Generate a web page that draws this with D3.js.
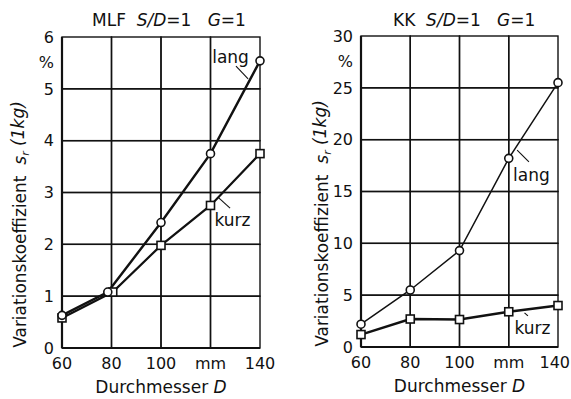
<!DOCTYPE html>
<html>
<head>
<meta charset="utf-8">
<script src="https://cdn.jsdelivr.net/npm/d3@7"></script>
<style>
  body { margin: 0; background: #fff; }
  svg text { font-family: "DejaVu Sans", sans-serif; fill: #111; }
</style>
</head>
<body>
<div id="chart"></div>
<script>
// data
const diameters = [60, 80, 100, 120, 140];
const xTickLabels = ["60", "80", "100", "mm", "140"];

// MLF panel, S/D=1, G=1
const mlfLangD = [60, 78.5, 100, 120, 140];
const mlfLang = [0.63, 1.08, 2.42, 3.75, 5.54];
const mlfKurzD = [60, 80.5, 100, 120, 140];
const mlfKurz = [0.58, 1.08, 1.98, 2.75, 3.75];
const mlfYTicks = [0, 1, 2, 3, 4, 5, 6];

// KK panel, S/D=1, G=1
const kkLang = [2.2, 5.5, 9.3, 18.2, 25.5];
const kkKurz = [1.2, 2.7, 2.65, 3.4, 4.0];
const kkYTicks = [0, 5, 10, 15, 20, 25, 30];

function draw() {

//*************************1. Set up Measurement
  const dimensions = { width: 571, height: 399 }

  const svg = d3.select("#chart")
    .append("svg")
    .attr("width", dimensions.width)
    .attr("height", dimensions.height)

  const panels = [
    {
      name: "MLF", left: 62, right: 260, top: 37, bottom: 348, yMax: 6, yTicks: mlfYTicks,
      labelX: 20, titleX: 92,
      lang: { d: mlfLangD, v: mlfLang, width: 2.4 },
      kurz: { d: mlfKurzD, v: mlfKurz, width: 2.2 },
      langLabel: { d: 128.1, v: 5.61, lead: [[130.3, 5.44], [135.2, 5.19]] },
      kurzLabel: { d: 128.9, v: 2.47, lead: [[123.0, 2.91], [127.9, 2.70]] }
    },
    {
      name: "KK", left: 361, right: 558, top: 36, bottom: 347, yMax: 30, yTicks: kkYTicks,
      labelX: 322, titleX: 393,
      lang: { d: diameters, v: kkLang, width: 1.5 },
      kurz: { d: diameters, v: kkKurz, width: 2.4 },
      langLabel: { d: 129.2, v: 16.6, lead: [[123.4, 19.0], [128.2, 17.85]] },
      kurzLabel: { d: 129.6, v: 1.83, lead: [[126.4, 3.3], [127.8, 3.0]] }
    }
  ]

  panels.forEach(p => drawPanel(svg, p, dimensions))
}

function drawPanel(svg, p, dimensions) {

//*************************2. Scales
  const xScale = d3.scaleLinear()
    .domain([60, 140])
    .range([p.left, p.right])

  const yScale = d3.scaleLinear()
    .domain([0, p.yMax])
    .range([p.bottom, p.top])

  const g = svg.append("g")

//*************************3. Grid cells and frame
  const cells = d3.cross(d3.pairs(diameters), d3.pairs(p.yTicks))
  g.append("g")
    .selectAll("rect")
    .data(cells)
    .join("rect")
      .attr("x", d => xScale(d[0][0]))
      .attr("y", d => yScale(d[1][1]))
      .attr("width", d => xScale(d[0][1]) - xScale(d[0][0]))
      .attr("height", d => yScale(d[1][0]) - yScale(d[1][1]))
      .attr("fill", "none")
      .attr("stroke", "#111")
      .attr("stroke-width", 1.4)

  // axis lines a bit heavier
  g.append("line")
    .attr("x1", xScale(60)).attr("x2", xScale(60))
    .attr("y1", yScale(p.yMax)).attr("y2", yScale(0))
    .attr("stroke", "#111").attr("stroke-width", 2.2)
  g.append("line")
    .attr("x1", xScale(60)).attr("x2", xScale(140))
    .attr("y1", yScale(0)).attr("y2", yScale(0))
    .attr("stroke", "#111").attr("stroke-width", 2.2)

//*************************4. Tick labels and axis titles
  g.append("g")
    .selectAll("text")
    .data(p.yTicks)
    .join("text")
      .attr("x", p.left - 8)
      .attr("y", d => yScale(d))
      .attr("dy", "0.36em")
      .attr("text-anchor", "end")
      .attr("font-size", 16)
      .text(d => d)

  g.append("text")
    .attr("x", p.left - 8)
    .attr("y", p.top + 25)
    .attr("dy", "0.36em")
    .attr("text-anchor", "end")
    .attr("font-size", 16)
    .text("%")

  const xTicks = g.append("g")
    .selectAll("text")
    .data(diameters)
    .join("text")
      .attr("x", d => xScale(d))
      .attr("y", p.bottom + 21)
      .attr("text-anchor", "middle")
      .attr("font-size", 16)
      .text((d, i) => xTickLabels[i])

  // keep the last label inside the page
  xTicks.each(function(d) {
    const half = this.getComputedTextLength() / 2
    if (xScale(d) + half > dimensions.width - 1) {
      d3.select(this).attr("x", dimensions.width - 1 - half)
    }
  })

  const xLabel = g.append("text")
    .attr("x", (p.left + p.right) / 2)
    .attr("y", p.bottom + 45)
    .attr("text-anchor", "middle")
    .attr("font-size", 17)
  xLabel.append("tspan").text("Durchmesser ")
  xLabel.append("tspan").attr("font-style", "italic").text("D")

  const yLabel = g.append("text")
    .attr("transform", `translate(${p.labelX}, ${(p.top + p.bottom) / 2 + 32}) rotate(-90)`)
    .attr("dy", "0.36em")
    .attr("text-anchor", "middle")
    .attr("font-size", 17)
  yLabel.append("tspan").text("Variationskoeffizient\u00a0\u00a0")
  yLabel.append("tspan").attr("font-style", "italic").text("s")
  yLabel.append("tspan").attr("font-style", "italic").attr("font-size", 11).attr("dy", "0.3em").text("r")
  yLabel.append("tspan").attr("font-style", "italic").attr("dy", "-0.3em").text("\u00a0(1kg)")

  const title = g.append("text")
    .attr("x", p.titleX)
    .attr("y", 26)
    .attr("font-size", 17)
  title.append("tspan").text(p.name + "\u00a0\u00a0")
  title.append("tspan").attr("font-style", "italic").text("S/D")
  title.append("tspan").text("=1\u00a0\u00a0\u00a0")
  title.append("tspan").attr("font-style", "italic").text("G")
  title.append("tspan").text("=1")

//*************************5. Lines and markers
  const line = d3.line()
    .x(d => xScale(d[0]))
    .y(d => yScale(d[1]))

  const langPts = p.lang.d.map((d, i) => [d, p.lang.v[i]])
  const kurzPts = p.kurz.d.map((d, i) => [d, p.kurz.v[i]])

  g.append("path")
    .datum(kurzPts)
    .attr("d", line)
    .attr("fill", "none")
    .attr("stroke", "#111")
    .attr("stroke-width", p.kurz.width)

  g.append("path")
    .datum(langPts)
    .attr("d", line)
    .attr("fill", "none")
    .attr("stroke", "#111")
    .attr("stroke-width", p.lang.width)

  g.append("g")
    .selectAll("rect")
    .data(kurzPts)
    .join("rect")
      .attr("x", d => xScale(d[0]) - 4)
      .attr("y", d => yScale(d[1]) - 4)
      .attr("width", 8)
      .attr("height", 8)
      .attr("fill", "#fff")
      .attr("stroke", "#111")
      .attr("stroke-width", 1.6)

  g.append("g")
    .selectAll("circle")
    .data(langPts)
    .join("circle")
      .attr("cx", d => xScale(d[0]))
      .attr("cy", d => yScale(d[1]))
      .attr("r", 4)
      .attr("fill", "#fff")
      .attr("stroke", "#111")
      .attr("stroke-width", 1.6)

//*************************6. Curve labels with leader lines
  const labels = [["lang", p.langLabel], ["kurz", p.kurzLabel]]
  labels.forEach(([name, l]) => {
    g.append("line")
      .attr("x1", xScale(l.lead[0][0]))
      .attr("y1", yScale(l.lead[0][1]))
      .attr("x2", xScale(l.lead[1][0]))
      .attr("y2", yScale(l.lead[1][1]))
      .attr("stroke", "#111")
      .attr("stroke-width", 1.1)
    g.append("text")
      .attr("x", xScale(l.d))
      .attr("y", yScale(l.v))
      .attr("dy", "0.36em")
      .attr("text-anchor", "middle")
      .attr("font-size", 17)
      .text(name)
  })
}

draw()
</script>
</body>
</html>
